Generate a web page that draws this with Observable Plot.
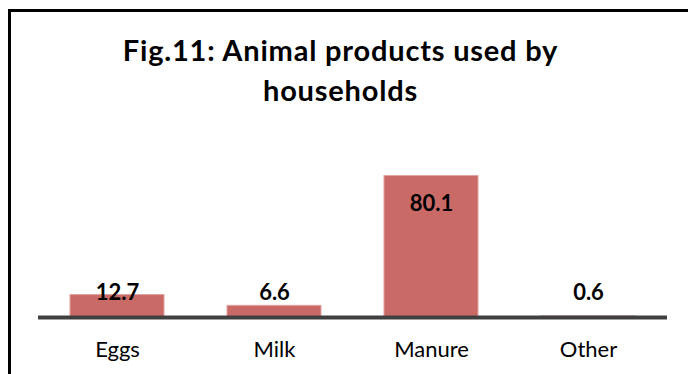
<!DOCTYPE html>
<html>
<head>
<meta charset="utf-8">
<script src="https://cdn.jsdelivr.net/npm/d3@7"></script>
<script src="https://cdn.jsdelivr.net/npm/@observablehq/plot@0.6"></script>
<style>
  html, body { margin: 0; padding: 0; background: #fff; }
  body { width: 688px; height: 374px; overflow: hidden; position: relative; font-family: Lato, "Open Sans", sans-serif; }
  #frame {
    position: absolute; left: 8px; top: 9px; width: 720px; height: 420px;
    border-left: 3px solid #000; border-top: 3px solid #000; box-sizing: border-box;
  }
  #title {
    position: relative; width: 681px; padding-top: 30px; height: 80px;
    text-align: center; font-weight: bold; font-size: 29px; letter-spacing: 0.8px;
    line-height: 40px; color: #000;
  }
  #chart { position: relative; }
</style>
</head>
<body>
<div id="frame"></div>
<div id="title">Fig.11: Animal products used by<br>households</div>
<div id="chart"></div>
<script>
// Share of households using each animal product (%)
const products = ["Eggs", "Milk", "Manure", "Other"];
const shares = [12.7, 6.6, 80.1, 0.6];

const data = products.map((product, i) => ({product, share: shares[i]}));

// Labels sit inside the top of tall bars; short bars get them at a fixed height
const labelY = (d) => Math.max(d.share - 15.6, 13.9);

const chart = Plot.plot({
  width: 688,
  height: 264,
  marginLeft: 38,
  marginRight: 21,
  marginTop: 48,
  marginBottom: 57,
  style: {fontFamily: "Lato, 'Open Sans', sans-serif", color: "#000", background: "transparent"},
  x: {domain: products, paddingInner: 0.4, paddingOuter: 0.2, label: null},
  y: {domain: [0, 90], axis: null},
  marks: [
    Plot.barY(data, {x: "product", y: "share", fill: "#C96A66", stroke: "#E2A29F", strokeWidth: 1}),
    Plot.ruleY([0], {stroke: "#404040", strokeWidth: 4}),
    Plot.text(data, {
      x: "product", y: labelY, text: (d) => d.share.toFixed(1),
      fontSize: 22, fontWeight: "bold", fill: "#000", lineAnchor: "middle"
    }),
    Plot.axisX({tickSize: 0, tickPadding: 23.5, fontSize: 22, label: null, fill: "#000"})
  ]
});
document.getElementById("chart").appendChild(chart);
</script>
</body>
</html>
